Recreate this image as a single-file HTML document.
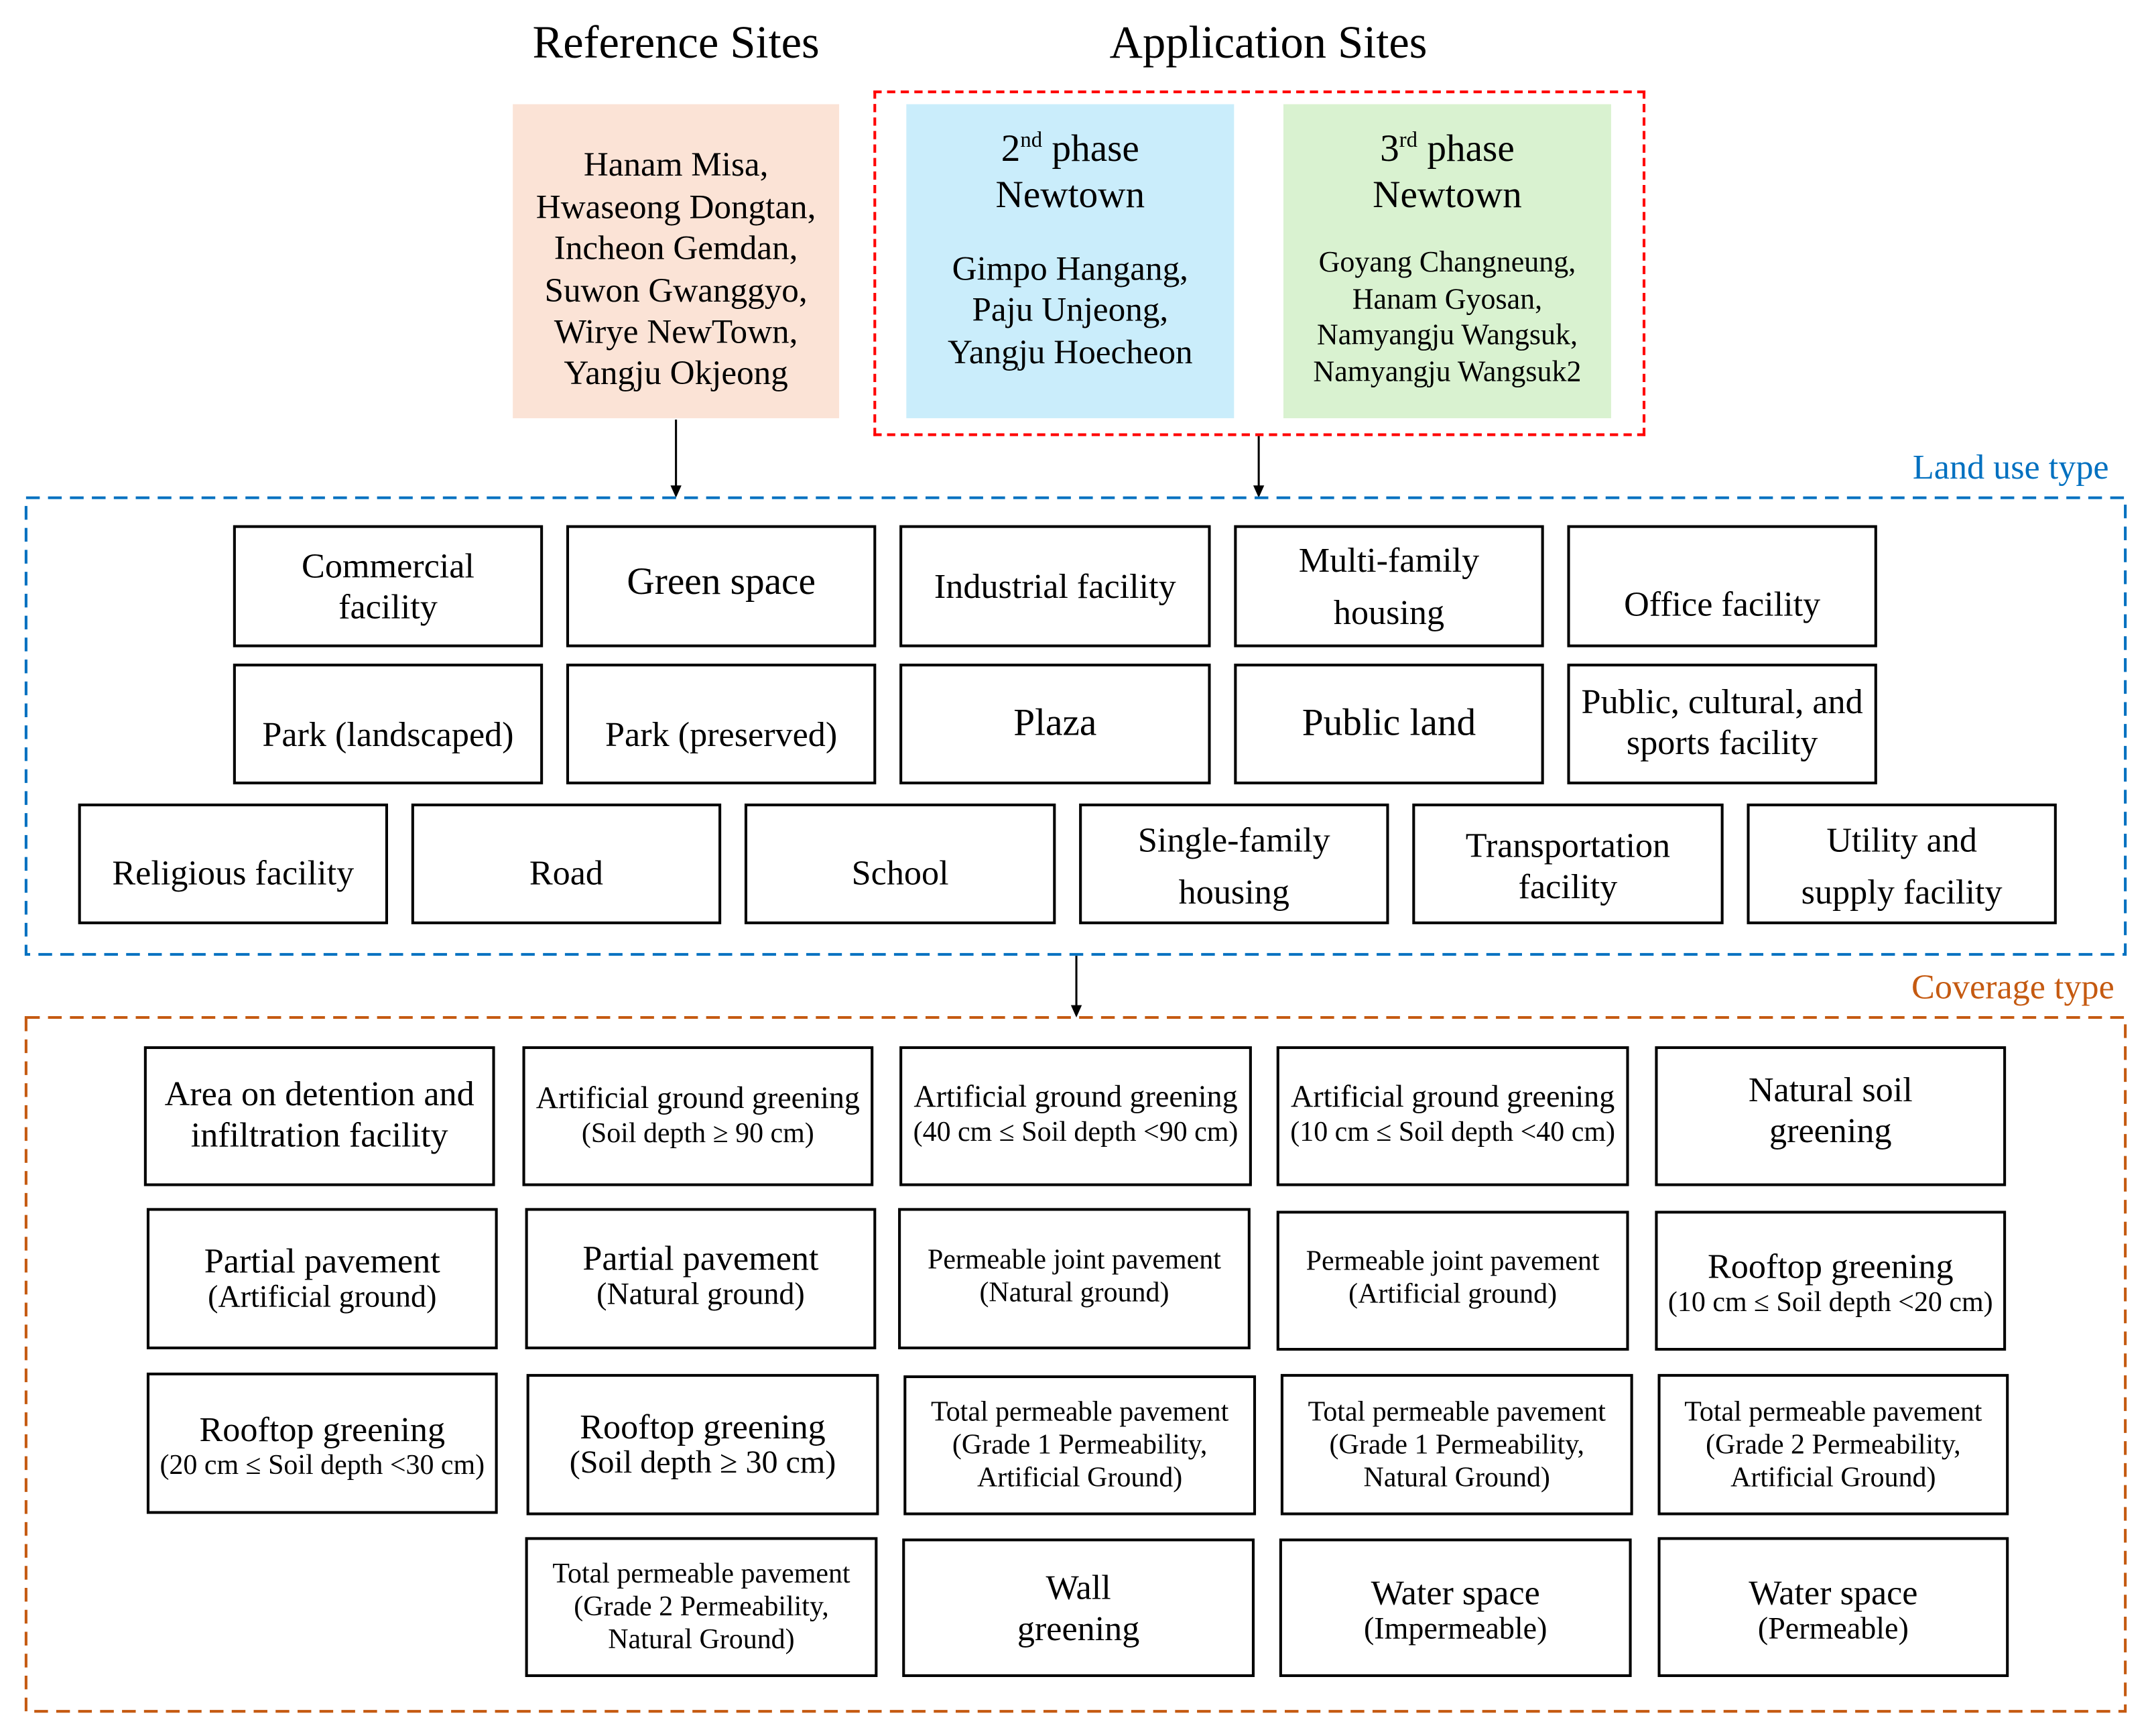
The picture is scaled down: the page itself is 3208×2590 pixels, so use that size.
<!DOCTYPE html>
<html><head><meta charset="utf-8"><style>
html,body{margin:0;padding:0;background:#fff;}
body{width:3208px;height:2590px;overflow:hidden;position:relative;}
#w{position:absolute;left:0;top:0;width:1568px;height:1266px;transform:scale(2.0459,2.0458);transform-origin:0 0;font-family:"Liberation Serif",serif;color:#000;}
.a{position:absolute;}
.b{position:absolute;box-sizing:border-box;border:2px solid #000;display:flex;align-items:center;justify-content:center;text-align:center;font-size:25.5px;line-height:30px;white-space:nowrap;}
.s{font-size:20.5px;line-height:24px;}
.s .l{font-size:25.5px;line-height:28px;}
.c{position:absolute;display:flex;flex-direction:column;align-items:center;justify-content:center;text-align:center;}
</style></head><body><div id="w">
<div class="a" style="left:333px;top:13px;width:320px;text-align:center;font-size:33.5px;">Reference Sites</div>
<div class="a" style="left:755px;top:13px;width:340px;text-align:center;font-size:33.5px;">Application Sites</div>

<div class="c" style="left:374px;top:76px;width:238px;height:229px;box-sizing:border-box;padding-top:14px;background:#fbe3d6;font-size:25px;line-height:30.4px;white-space:nowrap;">Hanam Misa,<br>Hwaseong Dongtan,<br>Incheon Gemdan,<br>Suwon Gwanggyo,<br>Wirye NewTown,<br>Yangju Okjeong</div>
<div class="a" style="left:637px;top:66px;width:563px;height:252px;box-sizing:border-box;border:2px dashed #ff0000;"></div>
<div class="a" style="left:661px;top:76px;width:239px;height:229px;background:#caedfb;text-align:center;white-space:nowrap;">
 <div style="position:absolute;left:0;right:0;top:10px;font-size:28px;line-height:34px;">2<sup style="font-size:16px;">nd</sup> phase<br>Newtown</div>
 <div style="position:absolute;left:0;right:0;top:106px;font-size:25px;line-height:30.4px;">Gimpo Hangang,<br>Paju Unjeong,<br>Yangju Hoecheon</div>
</div>
<div class="a" style="left:936px;top:76px;width:239px;height:229px;background:#d9f2d0;text-align:center;white-space:nowrap;">
 <div style="position:absolute;left:0;right:0;top:10px;font-size:28px;line-height:34px;">3<sup style="font-size:16px;">rd</sup> phase<br>Newtown</div>
 <div style="position:absolute;left:0;right:0;top:102px;font-size:21.5px;line-height:26.5px;">Goyang Changneung,<br>Hanam Gyosan,<br>Namyangju Wangsuk,<br>Namyangju Wangsuk2</div>
</div>

<svg class="a" style="left:0;top:0" width="1568" height="1266">
<line x1="493" y1="306" x2="493" y2="356" stroke="#000" stroke-width="1.5"/>
<path d="M489,354 L497,354 L493,363 z" fill="#000"/>
<line x1="918" y1="318" x2="918" y2="356" stroke="#000" stroke-width="1.5"/>
<path d="M914,354 L922,354 L918,363 z" fill="#000"/>
<line x1="785" y1="697" x2="785" y2="735" stroke="#000" stroke-width="1.5"/>
<path d="M781,733 L789,733 L785,742 z" fill="#000"/>
<rect x="19" y="363" width="1531" height="333" fill="none" stroke="#0070c0" stroke-width="2" stroke-dasharray="10,6"/>
<rect x="19" y="742" width="1531" height="506" fill="none" stroke="#c55a11" stroke-width="2" stroke-dasharray="10,6"/>
</svg>
<div class="a" style="left:1280px;top:326px;width:258px;text-align:right;font-size:25.5px;color:#0070c0;">Land use type</div>
<div class="a" style="left:1280px;top:705px;width:262px;text-align:right;font-size:25.5px;color:#c55a11;">Coverage type</div>

<!-- land use -->
<div class="b" style="left:170px;top:383px;width:226px;height:89px;">Commercial<br>facility</div>
<div class="b" style="left:413px;top:383px;width:226px;height:89px;font-size:28px;padding-bottom:6px;">Green space</div>
<div class="b" style="left:656px;top:383px;width:227px;height:89px;">Industrial facility</div>
<div class="b" style="left:900px;top:383px;width:226px;height:89px;line-height:38px;">Multi-family<br>housing</div>
<div class="b" style="left:1143px;top:383px;width:226px;height:89px;padding-top:26px;">Office facility</div>
<div class="b" style="left:170px;top:484px;width:226px;height:88px;padding-top:16px;">Park (landscaped)</div>
<div class="b" style="left:413px;top:484px;width:226px;height:88px;padding-top:16px;">Park (preserved)</div>
<div class="b" style="left:656px;top:484px;width:227px;height:88px;font-size:28px;">Plaza</div>
<div class="b" style="left:900px;top:484px;width:226px;height:88px;font-size:28px;">Public land</div>
<div class="b" style="left:1143px;top:484px;width:226px;height:88px;padding-bottom:2px;">Public, cultural, and<br>sports facility</div>
<div class="b" style="left:57px;top:586px;width:226px;height:88px;padding-top:14px;">Religious facility</div>
<div class="b" style="left:300px;top:586px;width:226px;height:88px;padding-top:14px;">Road</div>
<div class="b" style="left:543px;top:586px;width:227px;height:88px;padding-top:14px;">School</div>
<div class="b" style="left:787px;top:586px;width:226px;height:88px;line-height:38px;padding-top:4px;">Single-family<br>housing</div>
<div class="b" style="left:1030px;top:586px;width:227px;height:88px;padding-top:4px;">Transportation<br>facility</div>
<div class="b" style="left:1274px;top:586px;width:226px;height:88px;line-height:38px;padding-top:4px;">Utility and<br>supply facility</div>

<!-- coverage -->
<div class="b" style="left:105px;top:763px;width:256px;height:102px;padding-bottom:2px;">Area on detention and<br>infiltration facility</div>
<div class="b s" style="left:381px;top:763px;width:256px;height:102px;padding-bottom:2px;"><div><span class="l" style="font-size:22.5px;">Artificial ground greening</span><br>(Soil depth ≥ 90 cm)</div></div>
<div class="b s" style="left:656px;top:763px;width:257px;height:102px;padding-bottom:4px;"><div><span class="l" style="font-size:22.5px;">Artificial ground greening</span><br>(40 cm ≤ Soil depth &lt;90 cm)</div></div>
<div class="b s" style="left:931px;top:763px;width:257px;height:102px;padding-bottom:4px;"><div><span class="l" style="font-size:22.5px;">Artificial ground greening</span><br>(10 cm ≤ Soil depth &lt;40 cm)</div></div>
<div class="b" style="left:1207px;top:763px;width:256px;height:102px;padding-bottom:8px;">Natural soil<br>greening</div>

<div class="b s" style="left:107px;top:881px;width:256px;height:103px;"><div><span class="l">Partial pavement</span><br><span style="font-size:22.5px;">(Artificial ground)</span></div></div>
<div class="b s" style="left:383px;top:881px;width:256px;height:103px;padding-bottom:4px;"><div><span class="l">Partial pavement</span><br><span style="font-size:22.5px;">(Natural ground)</span></div></div>
<div class="b s" style="left:655px;top:881px;width:257px;height:103px;padding-bottom:4px;">Permeable joint pavement<br>(Natural ground)</div>
<div class="b s" style="left:931px;top:883px;width:257px;height:102px;padding-bottom:4px;">Permeable joint pavement<br>(Artificial ground)</div>
<div class="b s" style="left:1207px;top:883px;width:256px;height:102px;padding-top:4px;"><div><span class="l">Rooftop greening</span><br>(10 cm ≤ Soil depth &lt;20 cm)</div></div>

<div class="b s" style="left:107px;top:1001px;width:256px;height:103px;padding-top:4px;"><div><span class="l">Rooftop greening</span><br>(20 cm ≤ Soil depth &lt;30 cm)</div></div>
<div class="b s" style="left:384px;top:1002px;width:257px;height:103px;"><div><span class="l">Rooftop greening</span><br><span style="font-size:23.5px;">(Soil depth ≥ 30 cm)</span></div></div>
<div class="b s" style="left:659px;top:1003px;width:257px;height:102px;">Total permeable pavement<br>(Grade 1 Permeability,<br>Artificial Ground)</div>
<div class="b s" style="left:934px;top:1002px;width:257px;height:103px;">Total permeable pavement<br>(Grade 1 Permeability,<br>Natural Ground)</div>
<div class="b s" style="left:1209px;top:1002px;width:256px;height:103px;">Total permeable pavement<br>(Grade 2 Permeability,<br>Artificial Ground)</div>

<div class="b s" style="left:383px;top:1121px;width:257px;height:102px;">Total permeable pavement<br>(Grade 2 Permeability,<br>Natural Ground)</div>
<div class="b" style="left:658px;top:1122px;width:257px;height:101px;">Wall<br>greening</div>
<div class="b s" style="left:933px;top:1122px;width:257px;height:101px;padding-top:4px;"><div><span class="l">Water space</span><br><span style="font-size:22.5px;">(Impermeable)</span></div></div>
<div class="b s" style="left:1209px;top:1121px;width:256px;height:102px;padding-top:4px;"><div><span class="l">Water space</span><br><span style="font-size:22.5px;">(Permeable)</span></div></div>
</div></body></html>
